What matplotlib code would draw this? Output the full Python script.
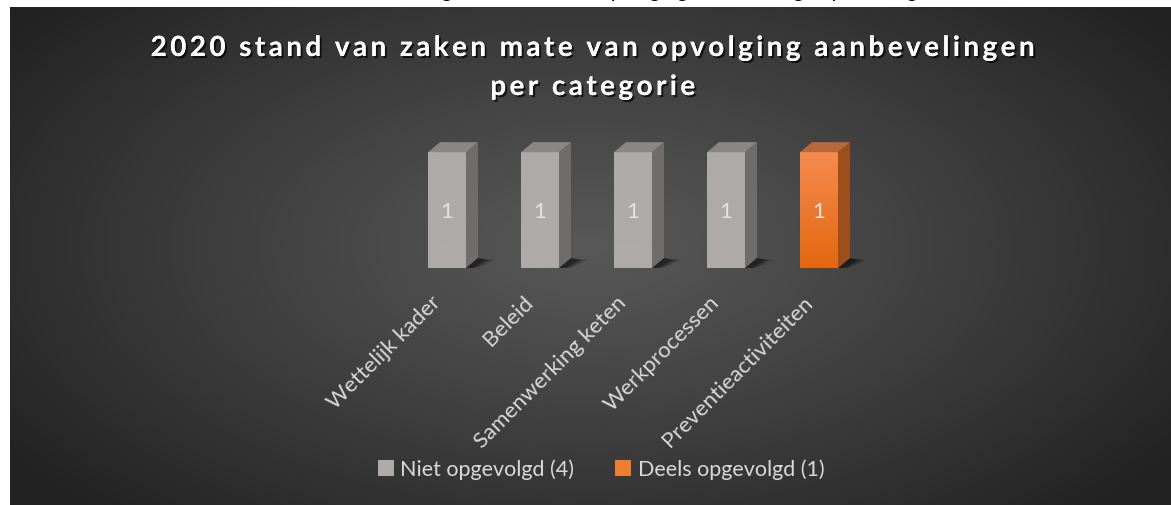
"""
Kolomgrafiek: stand van zaken opvolging aanbevelingen per categorie (2020).
"""

import numpy as np
import matplotlib

matplotlib.use("Agg")
import matplotlib.pyplot as plt
import matplotlib.patheffects as pe
import matplotlib.transforms as mtransforms
from matplotlib.patches import Polygon, Rectangle, Patch

plt.rcParams["font.family"] = ["Lato", "DejaVu Sans"]

categories = [
    "Wettelijk kader",
    "Beleid",
    "Samenwerking keten",
    "Werkprocessen",
    "Preventieactiviteiten",
]
values = [1, 1, 1, 1, 1]
status = ["niet", "niet", "niet", "niet", "deels"]
legend_labels = ["Niet opgevolgd (4)", "Deels opgevolgd (1)"]
title_lines = ["2020 stand van zaken mate van opvolging aanbevelingen", "per categorie"]
caption = "Figuur 6 Mate van opvolging aanbevelingen per categorie"

# front top / front bottom / side / top colours per status
colours = {
    "niet": ("#aeaaaa", "#aeaaaa", "#6f6c6c", "#8a8686"),
    "deels": ("#f58b50", "#e4670f", "#9c4f1b", "#b7693b"),
}

W, H = 1171, 506
fig = plt.figure(figsize=(W / 100, H / 100), dpi=100, facecolor="white")

# dark panel with radial gradient
bg = fig.add_axes([10 / W, 0, (W - 10) / W, (H - 8) / H])
gx, gy = np.meshgrid(np.linspace(0, 1, 400), np.linspace(0, 1, 200))
r = np.sqrt(((gx - 0.5) / 0.62) ** 2 + ((gy - 0.48) / 0.75) ** 2)
r = np.clip(r, 0, 1)
shade = (0x58 + (0x22 - 0x58) * r ** 1.1) / 255.0
bg.imshow(np.dstack([shade, shade, shade]), extent=[0, 1, 0, 1],
          aspect="auto", origin="upper", interpolation="bicubic")
bg.set_axis_off()

# chart area: bar centres ~93 px apart, 116 px per unit
ax = fig.add_axes([400.5 / W, (H - 269) / H, 465 / W, 139 / H])
ax.patch.set_alpha(0)
x_pos = np.arange(len(categories))

bw = 38 / 93      # front width
dx = 12 / 93      # depth to the right
dy = 10 / 116     # depth upwards

for xi, v, st in zip(x_pos, values, status):
    front_top, front_bot, side_c, top_c = colours[st]
    left, right = xi - bw / 2, xi + bw / 2

    # soft shadow at the base
    for k, a in zip([1.0, 0.75, 0.5], [0.18, 0.22, 0.3]):
        ax.add_patch(Polygon(
            [(left - 0.13 * k, -0.02 * k), (right + 0.03, -0.035 * k),
             (right + dx + 0.17 * k, dy * 0.8), (right + dx, dy)],
            closed=True, facecolor="black", edgecolor="none", alpha=a, zorder=1))

    # front face with vertical gradient
    front = Rectangle((left, 0), bw, v, facecolor="none", edgecolor="none", zorder=3)
    ax.add_patch(front)
    c0 = np.array(matplotlib.colors.to_rgb(front_top))
    c1 = np.array(matplotlib.colors.to_rgb(front_bot))
    t = np.linspace(0, 1, 64)[:, None]
    grad = (c0 * (1 - t) + c1 * t)[:, None, :]
    im = ax.imshow(grad, extent=[left, right, 0, v], aspect="auto",
                   origin="upper", zorder=3)
    im.set_clip_path(front)

    # side and top faces
    ax.add_patch(Polygon([(right, 0), (right + dx, dy), (right + dx, v + dy), (right, v)],
                         closed=True, facecolor=side_c, edgecolor="none", zorder=3))
    ax.add_patch(Polygon([(left, v), (right, v), (right + dx, v + dy), (left + dx, v + dy)],
                         closed=True, facecolor=top_c, edgecolor="none", zorder=3))

    ax.text(xi, v * 0.49, f"{v:g}", ha="center", va="center",
            color="#e2e2e2", fontsize=16, zorder=4)

ax.set_xlim(-0.5, len(categories) - 0.5)
ax.set_ylim(0, 1.2)
ax.set_yticks([])
ax.set_xticks([])
for s in ax.spines.values():
    s.set_visible(False)

# category labels, rotated, ending just left of each bar centre
lab_tr = ax.get_xaxis_transform() + mtransforms.ScaledTranslation(
    -12 / 72, -17 / 72, fig.dpi_scale_trans)
for xi, cat in zip(x_pos, categories):
    ax.text(xi, 0, cat, transform=lab_tr, rotation=45, ha="right", va="top",
            rotation_mode="anchor", color="#d9d9d9", fontsize=16)

# title with letter spacing and shadow
shadow = [pe.withSimplePatchShadow(offset=(1.5, -1.5), shadow_rgbFace="black", alpha=0.7),
          pe.Normal()]
for line, ypix in zip(title_lines, [49, 88]):
    fig.text(593 / W, 1 - ypix / H, "\u2009".join(line), ha="center", va="center",
             fontsize=20, fontweight="bold", color="white", path_effects=shadow)

# caption of the page, only its descenders show above the panel
fig.text(690 / W, 1 + 3 / H, caption, ha="center", va="baseline",
         fontsize=16, style="italic", color="black")

handles = [Patch(facecolor=colours["niet"][0]), Patch(facecolor="#ed7d31")]
fig.legend(handles, legend_labels, loc="center", bbox_to_anchor=(601 / W, 1 - 470 / H),
           ncol=2, frameon=False, fontsize=15.5, labelcolor="#d9d9d9",
           handlelength=0.75, handleheight=0.75, handletextpad=0.3, columnspacing=1.9)

fig.savefig("out.png", dpi=100, facecolor="white")
